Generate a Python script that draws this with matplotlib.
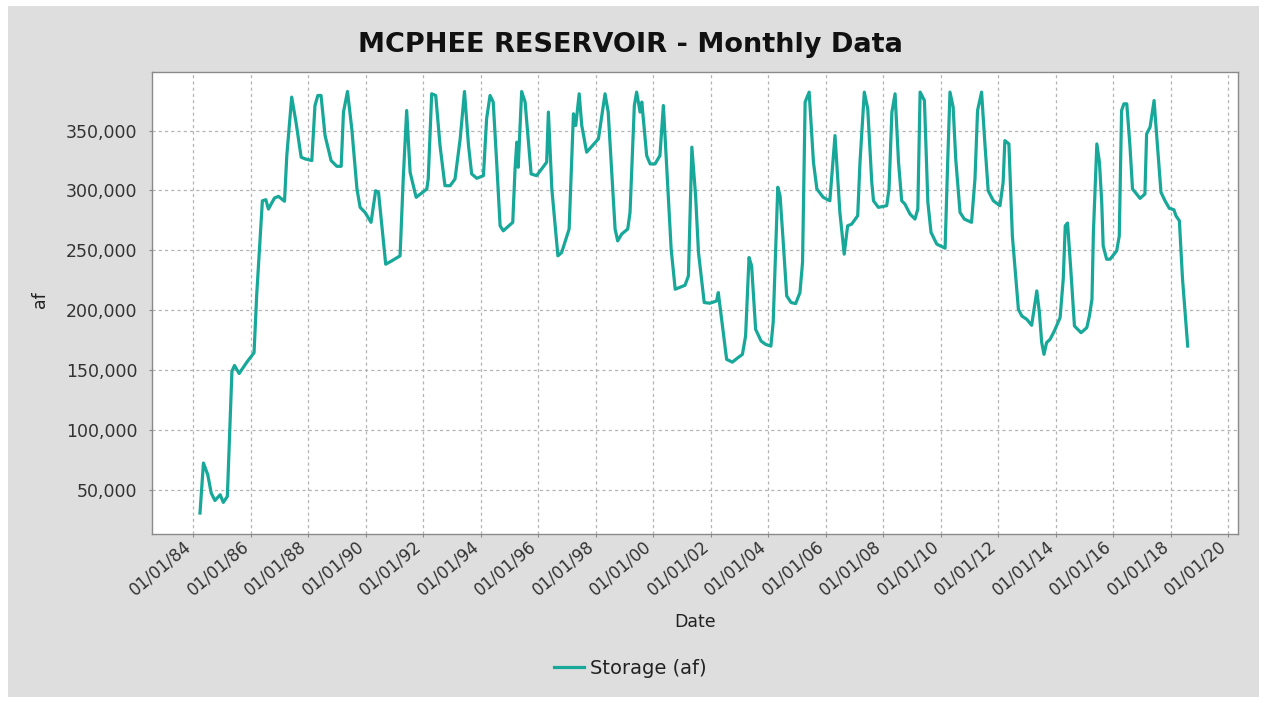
import datetime as dt
import matplotlib
matplotlib.use("Agg")
import matplotlib.pyplot as plt
import matplotlib.dates as mdates
import matplotlib.transforms as mtransforms
from matplotlib.ticker import FuncFormatter
from matplotlib.patches import Rectangle

# Storage readings (decimal year, acre-feet)
years = [
    1984.23, 1984.35, 1984.50, 1984.62, 1984.75, 1984.93, 1985.04, 1985.18, 1985.34, 1985.43,
    1985.59, 1985.86, 1986.11, 1986.20, 1986.40, 1986.52, 1986.61, 1986.82, 1986.96, 1987.17,
    1987.25, 1987.42, 1987.57, 1987.75, 1987.89, 1988.12, 1988.23, 1988.33, 1988.44, 1988.58,
    1988.79, 1988.99, 1989.14, 1989.22, 1989.36, 1989.51, 1989.69, 1989.80, 1989.97, 1990.18,
    1990.34, 1990.44, 1990.69, 1990.90, 1991.19, 1991.30, 1991.42, 1991.54, 1991.75, 1992.12,
    1992.17, 1992.29, 1992.43, 1992.58, 1992.75, 1992.93, 1993.10, 1993.28, 1993.43, 1993.57,
    1993.68, 1993.86, 1994.09, 1994.20, 1994.32, 1994.43, 1994.55, 1994.67, 1994.78, 1995.11,
    1995.19, 1995.25, 1995.30, 1995.42, 1995.54, 1995.75, 1995.94, 1996.29, 1996.35, 1996.47,
    1996.68, 1996.81, 1997.07, 1997.22, 1997.30, 1997.42, 1997.51, 1997.68, 1998.09, 1998.32,
    1998.43, 1998.67, 1998.76, 1998.90, 1999.11, 1999.19, 1999.34, 1999.42, 1999.54, 1999.60,
    1999.77, 1999.89, 2000.06, 2000.23, 2000.35, 2000.52, 2000.62, 2000.76, 2001.10, 2001.22,
    2001.34, 2001.47, 2001.57, 2001.77, 2001.97, 2002.20, 2002.26, 2002.55, 2002.75, 2002.90,
    2003.10, 2003.21, 2003.33, 2003.42, 2003.56, 2003.75, 2003.91, 2004.09, 2004.17, 2004.33,
    2004.41, 2004.52, 2004.64, 2004.79, 2004.95, 2005.10, 2005.19, 2005.28, 2005.42, 2005.57,
    2005.69, 2005.91, 2006.14, 2006.32, 2006.49, 2006.64, 2006.76, 2006.90, 2007.11, 2007.19,
    2007.34, 2007.46, 2007.60, 2007.66, 2007.83, 2008.12, 2008.20, 2008.30, 2008.41, 2008.53,
    2008.64, 2008.75, 2008.93, 2009.10, 2009.20, 2009.28, 2009.43, 2009.55, 2009.66, 2009.86,
    2010.15, 2010.24, 2010.32, 2010.43, 2010.52, 2010.67, 2010.82, 2011.07, 2011.19, 2011.28,
    2011.42, 2011.54, 2011.65, 2011.83, 2012.06, 2012.17, 2012.23, 2012.37, 2012.49, 2012.70,
    2012.82, 2012.99, 2013.16, 2013.34, 2013.43, 2013.51, 2013.59, 2013.68, 2013.80, 2013.95,
    2014.15, 2014.26, 2014.33, 2014.41, 2014.53, 2014.65, 2014.88, 2015.08, 2015.17, 2015.26,
    2015.31, 2015.43, 2015.52, 2015.60, 2015.65, 2015.77, 2015.89, 2016.12, 2016.21, 2016.29,
    2016.37, 2016.47, 2016.58, 2016.67, 2016.81, 2016.93, 2017.10, 2017.16, 2017.28, 2017.42,
    2017.51, 2017.66, 2017.80, 2017.95, 2018.11, 2018.18, 2018.30, 2018.41, 2018.59,
]
storage = [
    30500, 72300, 62500, 47200, 41000, 45800, 39400, 44400, 149000, 153800,
    147100, 156600, 164500, 211900, 291400, 292300, 284500, 293700, 295100, 291000,
    329100, 378000, 357100, 327800, 326400, 325000, 371000, 379400, 379400, 345900,
    325000, 320200, 320200, 365500, 382700, 351500, 301200, 285900, 281700, 273400,
    299800, 298500, 238400, 241200, 245400, 309600, 366800, 315200, 294300, 301200,
    309600, 380800, 379400, 337500, 304000, 304000, 309600, 343100, 382700, 337500,
    313800, 310200, 312400, 359900, 379400, 373900, 323600, 270500, 266300, 273400,
    318000, 340400, 319400, 382700, 373900, 313800, 312400, 323600, 365500, 301200,
    245400, 248200, 267800, 364100, 354300, 380800, 354300, 332000, 343100, 380800,
    365500, 267800, 257900, 263600, 267800, 281700, 371000, 382200, 365500, 373900,
    329100, 322200, 322200, 329100, 371000, 295600, 251000, 217500, 220800, 228600,
    336200, 295600, 248200, 206400, 205800, 207700, 214700, 158900, 156600, 159500,
    163100, 178400, 244000, 237000, 184000, 174200, 171400, 170000, 189600, 302700,
    295600, 256600, 211900, 206400, 205500, 214700, 239900, 373900, 382200, 323600,
    301200, 294300, 291400, 345900, 281700, 246800, 270500, 271900, 278900, 323600,
    382200, 368200, 306900, 291400, 285900, 287300, 301200, 365500, 380800, 323600,
    291400, 288700, 280300, 276100, 284500, 382200, 375200, 290100, 265000, 255200,
    251800, 323600, 382200, 369700, 326400, 281700, 276100, 273400, 309600, 366800,
    382200, 337500, 299800, 291400, 287300, 306900, 341700, 338900, 262100, 200700,
    195100, 192400, 187400, 216100, 198000, 172900, 163100, 172900, 175600, 182600,
    193800, 225900, 270500, 272800, 231500, 186800, 181200, 185400, 195100, 209100,
    265000, 338900, 323600, 290100, 253800, 242600, 242600, 249600, 262100, 366800,
    372400, 372400, 337500, 301200, 297100, 293400, 297100, 347300, 352900, 375200,
    345900, 298500, 291400, 285100, 283900, 278900, 274700, 225900, 170000,
]

title = "MCPHEE RESERVOIR - Monthly Data"
x_label = "Date"
y_label = "af"
series_label = "Storage (af)"
y_ticks = [50000, 100000, 150000, 200000, 250000, 300000, 350000]


def to_date(y):
    yr = int(y)
    start = dt.datetime(yr, 1, 1)
    days = (dt.datetime(yr + 1, 1, 1) - start).days
    return start + dt.timedelta(days=(y - yr) * days)


dates = [to_date(y) for y in years]

W, H = 1267, 703
fig = plt.figure(figsize=(W / 100, H / 100), dpi=100)
fig.patch.set_facecolor("white")
fig.patches.append(Rectangle((8 / W, 6 / H), (W - 16) / W, (H - 12) / H,
                             transform=fig.transFigure, facecolor="#dedede",
                             edgecolor="none", zorder=-10))

ax = fig.add_axes([152 / W, 1 - 534 / H, (1238 - 152) / W, (534 - 72) / H])
ax.set_facecolor("white")
line, = ax.plot(dates, storage, color="#17a899", linewidth=2.3, label=series_label,
                solid_joinstyle="round")

ax.set_xlim(to_date(1982.56), to_date(2020.34))
ax.set_ylim(13000, 399000)

ax.xaxis.set_major_locator(mdates.YearLocator(2))
ax.xaxis.set_major_formatter(mdates.DateFormatter("%m/%d/%y"))
ax.set_yticks(y_ticks)
ax.yaxis.set_major_formatter(FuncFormatter(lambda v, p: f"{int(v):,}"))

ax.grid(True, color="#b4b4b4", linestyle=(0, (2.5, 2.5)), linewidth=0.9)
ax.set_axisbelow(True)
for s in ax.spines.values():
    s.set_color("#8a8a8a")
    s.set_linewidth(1.0)

ax.tick_params(axis="both", direction="out", length=2.5, color="#8a8a8a",
               labelsize=12, labelcolor="#333333")
ax.tick_params(axis="y", pad=8, labelsize=12.5)
ax.tick_params(axis="x", pad=0)

shift = mtransforms.ScaledTranslation(-10 / 100, 0 / 100, fig.dpi_scale_trans)
for lab in ax.get_xticklabels():
    lab.set_rotation(40)
    lab.set_ha("right")
    lab.set_va("top")
    lab.set_rotation_mode("anchor")
    lab.set_transform(lab.get_transform() + shift)

ax.set_xlabel(x_label, fontsize=12.5, color="#222222")
ax.set_ylabel(y_label, fontsize=12.5, color="#222222")
ax.xaxis.set_label_coords((695 - 152) / 1086, (534 - 622) / 462)
ax.yaxis.set_label_coords((40 - 152) / 1086, (534 - 300) / 462)
ax.xaxis.label.set_va("center")
ax.yaxis.label.set_va("center")

fig.text(630 / W, 1 - 45 / H, title, ha="center", va="center",
         fontsize=19.5, fontweight="bold", color="#111111")

leg = fig.legend(handles=[line], loc="center", bbox_to_anchor=(630 / W, 1 - 668 / H),
                 frameon=False, fontsize=14, handlelength=1.55, handletextpad=0.3)
for t in leg.get_texts():
    t.set_color("#222222")

fig.savefig("out.png", dpi=100, facecolor=fig.get_facecolor())
